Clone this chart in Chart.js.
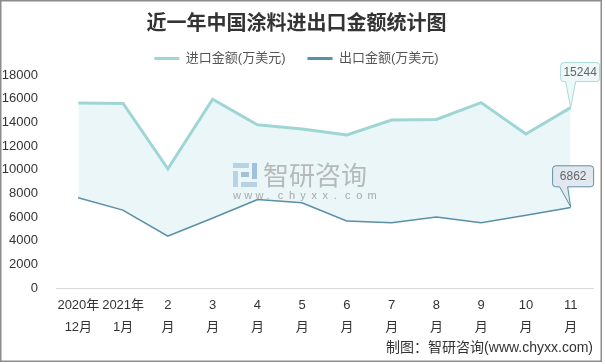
<!DOCTYPE html>
<html>
<head>
<meta charset="utf-8">
<script src="https://cdn.jsdelivr.net/npm/chart.js@4.4.1/dist/chart.umd.min.js"></script>
<style>
  html, body { margin: 0; padding: 0; background: #fff; }
  #wrap { width: 605px; height: 364px; position: relative; }
</style>
</head>
<body>
<div id="wrap"><canvas id="chart"></canvas></div>
<script>
const categories = [['2020年', '12月'], ['2021年', '1月'], ['2', '月'], ['3', '月'], ['4', '月'], ['5', '月'],
  ['6', '月'], ['7', '月'], ['8', '月'], ['9', '月'], ['10', '月'], ['11', '月']];
const importValues = [15640, 15600, 10070, 15950, 13790, 13430, 12930, 14190, 14240, 15670, 13010, 15244];
const exportValues = [7680, 6640, 4460, 5970, 7540, 7260, 5720, 5580, 6060, 5580, 6210, 6862];
const seriesNames = ['进口金额(万美元)', '出口金额(万美元)'];
const yMax = 18000;
const yStep = 2000;

const font = "'Liberation Sans', 'Noto Sans CJK SC', sans-serif";

// callout boxes on the last points, plus watermark, footer and frame
const extras = {
  id: 'extras',
  afterDatasetsDraw(chart) {
    const ctx = chart.ctx;

    // watermark
    ctx.save();
    const wx = 233, wy = 163;
    ctx.fillStyle = 'rgba(160,195,220,0.7)';
    ctx.fillRect(wx, wy, 16, 5);
    ctx.fillRect(wx, wy + 8, 5, 16);
    ctx.fillRect(wx + 8, wy + 19, 16, 5);
    ctx.fillStyle = 'rgba(130,170,205,0.7)';
    ctx.fillRect(wx + 19, wy, 5, 16);
    ctx.fillRect(wx + 8, wy + 9, 8, 5);
    ctx.fillStyle = 'rgba(160,160,160,0.7)';
    ctx.font = "26px 'Noto Sans CJK SC'";
    ctx.textBaseline = 'middle';
    ctx.fillText('智研咨询', 263, wy + 12);
    ctx.font = "11px 'Liberation Sans'";
    ctx.fillStyle = 'rgba(150,150,150,0.8)';
    'www.chyxx.com'.split('').forEach((c, i) => ctx.fillText(c, wx + i * 11.2, wy + 33));
    ctx.restore();

    // callouts
    const boxes = [
      { ds: 0, values: importValues, fill: '#eef8f8', stroke: '#a8dada', l: -10, r: 29, t: -45, b: -26, a0: -5, a1: 5 },
      { ds: 1, values: exportValues, fill: '#e1e8ef', stroke: '#5f8fa6', l: -18, r: 23, t: -41, b: -20, a0: -11, a1: -3 }
    ];
    boxes.forEach(o => {
      const meta = chart.getDatasetMeta(o.ds);
      const last = meta.data[meta.data.length - 1];
      const px = last.x, py = last.y;
      const x0 = px + o.l, x1 = px + o.r, y0 = py + o.t, y1 = py + o.b, rad = 3;
      ctx.save();
      ctx.beginPath();
      ctx.moveTo(x0 + rad, y0);
      ctx.lineTo(x1 - rad, y0);
      ctx.quadraticCurveTo(x1, y0, x1, y0 + rad);
      ctx.lineTo(x1, y1 - rad);
      ctx.quadraticCurveTo(x1, y1, x1 - rad, y1);
      ctx.lineTo(px + o.a1, y1);
      ctx.lineTo(px, py);
      ctx.lineTo(px + o.a0, y1);
      ctx.lineTo(x0 + rad, y1);
      ctx.quadraticCurveTo(x0, y1, x0, y1 - rad);
      ctx.lineTo(x0, y0 + rad);
      ctx.quadraticCurveTo(x0, y0, x0 + rad, y0);
      ctx.closePath();
      ctx.fillStyle = o.fill;
      ctx.fill();
      ctx.lineWidth = 1;
      ctx.strokeStyle = o.stroke;
      ctx.stroke();
      ctx.fillStyle = '#666';
      ctx.font = '12px ' + font;
      ctx.textAlign = 'center';
      ctx.textBaseline = 'middle';
      ctx.fillText(String(o.values[o.values.length - 1]), (x0 + x1) / 2, (y0 + y1) / 2 + 0.5);
      ctx.restore();
    });

    // footer
    ctx.save();
    ctx.fillStyle = '#333';
    ctx.font = '14px ' + font;
    ctx.textAlign = 'right';
    ctx.textBaseline = 'middle';
    ctx.fillText('制图：智研咨询(www.chyxx.com)', 593, 348);
    // frame
    ctx.strokeStyle = '#8c8c8c';
    ctx.lineWidth = 1.5;
    ctx.strokeRect(0.75, 0.75, 600.5, 360.5);
    ctx.restore();
  }
};

const ctx = document.getElementById('chart').getContext('2d');
const chart = new Chart(ctx, {
  type: 'line',
  data: {
    labels: categories,
    datasets: [{
      label: seriesNames[0],
      data: importValues,
      borderColor: '#9fd6d5',
      backgroundColor: '#eaf6f7',
      borderWidth: 3,
      pointRadius: 0,
      tension: 0,
      fill: '+1'
    }, {
      label: seriesNames[1],
      data: exportValues,
      borderColor: '#5a8fa7',
      backgroundColor: '#5a8fa7',
      borderWidth: 3,
      pointRadius: 0,
      tension: 0,
      fill: false
    }]
  },
  options: {
    responsive: true,
    maintainAspectRatio: false,
    animation: false,
    layout: { padding: { left: 0, right: 12, top: 0, bottom: 16 } },
    scales: {
      x: {
        offset: true,
        grid: { display: false, drawTicks: false },
        border: { display: true, color: '#d9d9d9', width: 1 },
        ticks: {
          color: '#333',
          font: { size: 13, family: font, lineHeight: 1.65 },
          padding: 7,
          maxRotation: 0,
          autoSkip: false
        },
        afterFit(scale) { scale.height = 60; }
      },
      y: {
        min: 0,
        max: yMax,
        grid: { display: false, drawTicks: false },
        border: { display: false },
        ticks: {
          stepSize: yStep,
          color: '#333',
          font: { size: 13, family: font },
          padding: 18,
          callback: v => String(v)
        },
        afterFit(scale) { scale.width = 56; }
      }
    },
    plugins: {
      title: {
        display: true,
        text: '近一年中国涂料进出口金额统计图',
        color: '#333',
        font: { size: 20, weight: 'bold', family: "'Noto Sans CJK SC', sans-serif" },
        padding: { top: 10, bottom: -4 }
      },
      legend: {
        display: true,
        labels: {
          color: '#555',
          font: { size: 13, family: font },
          boxWidth: 25,
          boxHeight: 3,
          padding: 22,
          generateLabels(chart) {
            return chart.data.datasets.map((d, i) => ({
              text: d.label,
              fillStyle: d.borderColor,
              strokeStyle: d.borderColor,
              lineWidth: 0,
              hidden: false,
              datasetIndex: i,
              fontColor: '#555'
            }));
          }
        }
      },
      tooltip: { enabled: false }
    }
  },
  plugins: [extras]
});
</script>
</body>
</html>
